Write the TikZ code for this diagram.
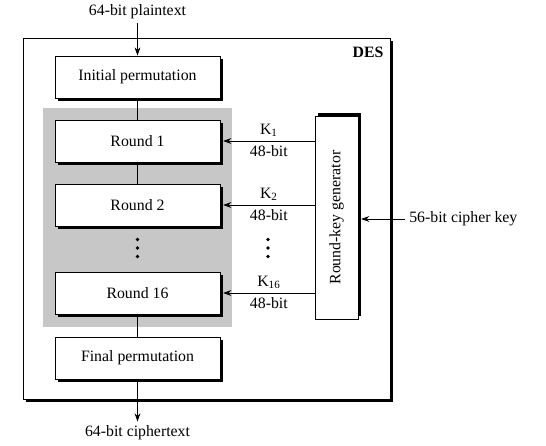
\documentclass[tikz,border=0pt]{standalone}
\usepackage{fontspec}
\setmainfont{Liberation Serif}
\usepackage{graphicx}
\usetikzlibrary{arrows.meta,shadows}

\begin{document}
\begin{tikzpicture}[
        x=0.03cm, y=-0.03cm,
        font=\fontsize{13.5}{16}\selectfont,
        line width=0.7pt,
        box/.style={draw, fill=white, inner sep=2pt},
        block/.style={box, minimum width=4.95cm, minimum height=1.26cm,
            drop shadow={shadow xshift=0.08cm, shadow yshift=-0.08cm, opacity=1, fill=black}},
        keygen/.style={box, minimum width=1.29cm, minimum height=6.09cm,
            drop shadow={shadow xshift=0.08cm, shadow yshift=0.08cm, opacity=1, fill=black}},
        frame/.style={box, minimum width=11.01cm, minimum height=10.83cm,
            drop shadow={shadow xshift=0.09cm, shadow yshift=-0.09cm, opacity=1, fill=black}},
        arrow/.style={-{Stealth[length=7pt,width=5pt]}}
    ]
        \useasboundingbox (0,0) rectangle (546,446);

        \node[frame] (des) at (206.5,218.5) {};
        \node[font=\fontsize{13.5}{16}\selectfont\bfseries] (deslbl) at (368,52) {DES};
        \fill[black!22] (43,108) rectangle (232,327);

        \node[block] (ip) at (137.5,77) {Initial permutation};
        \node[block] (r1) at (137.5,141) {Round 1};
        \node[block] (r2) at (137.5,205) {Round 2};
        \coordinate (dots) at (137.5,248);
        \node[block] (r16) at (137.5,293) {Round 16};
        \node[block] (fp) at (137.5,358) {Final permutation};
        \node[keygen] (rkg) at (336.5,217.5) {\rotatebox{90}{Round-key generator}};

        \node (plain) at (137.5,12) {64-bit plaintext};
        \node (cipher) at (137.5,433) {64-bit ciphertext};
        \node[anchor=west] (ckey) at (405,219) {56-bit cipher key};
        \coordinate (kdots) at (268,248);

        \foreach \dy in {-8.5,0,8.5} {
            \fill ([yshift=\dy*0.03cm]dots) circle (1.5pt);
            \fill ([yshift=\dy*0.03cm]kdots) circle (1.5pt);
        }

        \draw[arrow] (plain) -- (ip);
        \draw (ip) -- (r1);
        \draw (r1) -- (r2);
        \draw (r16) -- (fp);
        \draw[arrow] (fp) -- (cipher);
        \draw[arrow] (r1.east -| rkg.west) -- node[above]{K\textsubscript{1}} node[below]{48-bit} ([xshift=0.08cm]r1.east);
        \draw[arrow] (r2.east -| rkg.west) -- node[above]{K\textsubscript{2}} node[below]{48-bit} ([xshift=0.08cm]r2.east);
        \draw[arrow] (r16.east -| rkg.west) -- node[above]{K\textsubscript{16}} node[below]{48-bit} ([xshift=0.08cm]r16.east);
        \draw[arrow] (ckey.west) -- ([xshift=0.08cm]ckey.west -| rkg.east);
    \end{tikzpicture}
\end{document}
